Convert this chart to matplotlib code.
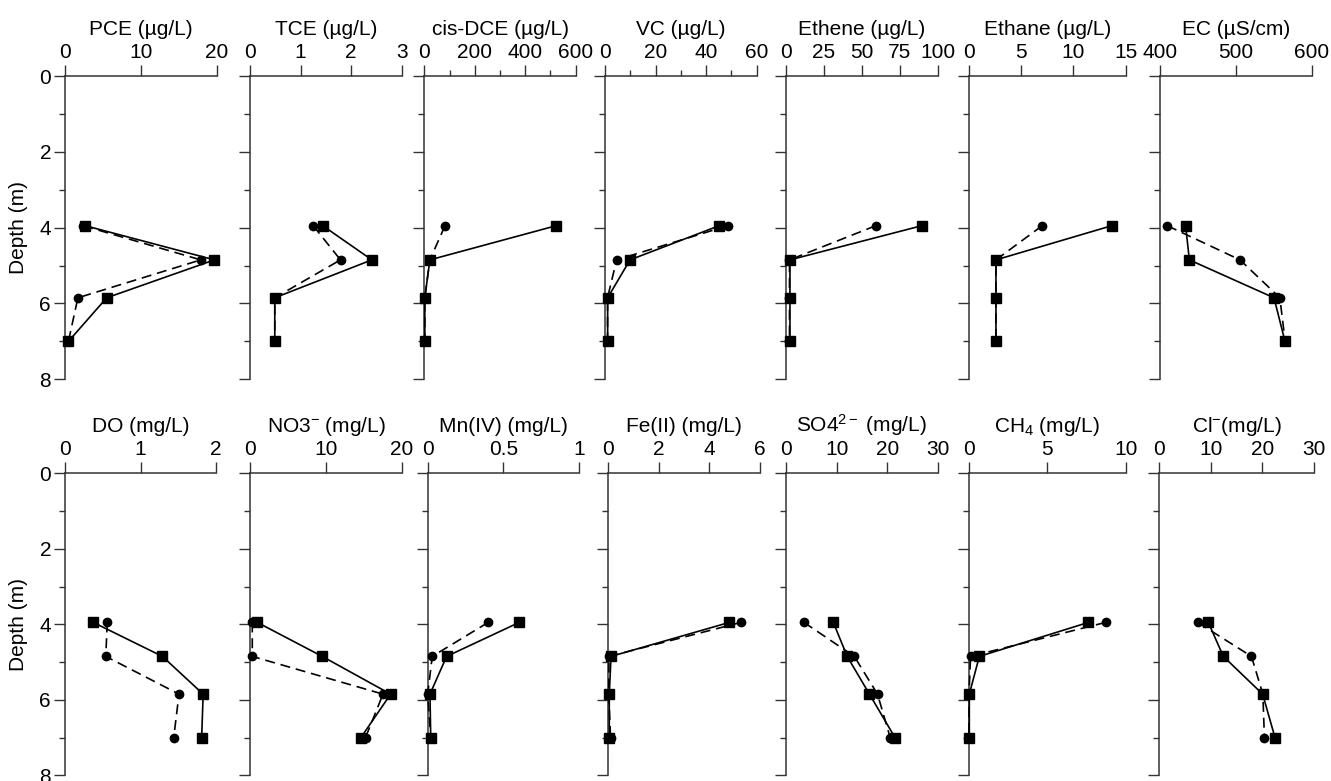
import matplotlib
matplotlib.use("Agg")
import matplotlib.pyplot as plt
from matplotlib.transforms import offset_copy
from matplotlib.ticker import FixedLocator, MultipleLocator

plt.rcParams['font.family'] = ['Liberation Sans', 'DejaVu Sans']
plt.rcParams['mathtext.fontset'] = 'custom'
plt.rcParams['mathtext.rm'] = 'Liberation Sans'
plt.rcParams['mathtext.it'] = 'Liberation Sans'
plt.rcParams['mathtext.default'] = 'regular'

# ---------------- data ----------------
depth = [3.95, 4.85, 5.85, 7.0]

pce_sq = [2.7, 19.7, 5.5, 0.45]
pce_ci = [2.4, 17.9, 1.7, 0.45]
tce_sq = [1.44, 2.41, 0.49, 0.49]
tce_ci = [1.25, 1.79, 0.49, 0.49]
dce_sq = [522, 22, 2, 2]
dce_ci = [82, 22, 2, 2]
vc_sq = [45.1, 9.9, 1.05, 1.05]
vc_ci = [48.5, 4.6, 1.0, 1.0]
ethene_sq = [89.4, 2.6, 2.6, 2.6]
ethene_ci = [59.1, 2.3, 2.3, 2.3]
ethane_sq = [13.65, 2.58, 2.58, 2.58]
ethane_ci = [7.0, 2.58, 2.58, 2.58]
ec_sq = [433.8, 438.7, 550.3, 564.8]
ec_ci = [409.7, 505.5, 558.0, 565.0]

do_sq = [0.375, 1.29, 1.83, 1.81]
do_ci = [0.56, 0.54, 1.51, 1.44]
no3_sq = [0.96, 9.5, 18.5, 14.6]
no3_ci = [0.3, 0.3, 17.5, 15.2]
mn_sq = [0.605, 0.125, 0.015, 0.02]
mn_ci = [0.40, 0.03, 0.0, 0.02]
fe_sq = [4.79, 0.12, 0.05, 0.05]
fe_ci = [5.25, 0.04, 0.03, 0.10]
so4_sq = [9.36, 12.1, 16.5, 21.55]
so4_ci = [3.56, 13.5, 18.1, 20.6]
ch4_sq = [7.62, 0.66, 0.02, 0.02]
ch4_ci = [8.72, 0.1, 0.0, 0.0]
cl_sq = [9.55, 12.45, 20.06, 22.45]
cl_ci = [7.48, 17.9, 20.1, 20.4]

titles_top = ['PCE (µg/L)', 'TCE (µg/L)', 'cis-DCE (µg/L)', 'VC (µg/L)',
              'Ethene (µg/L)', 'Ethane (µg/L)', 'EC (µS/cm)']
titles_bot = ['DO (mg/L)', 'NO3$^{-}$ (mg/L)', 'Mn(IV) (mg/L)', 'Fe(II) (mg/L)',
              'SO4$^{2-}$ (mg/L)', 'CH$_4$ (mg/L)', 'Cl$^{-}$(mg/L)']

xticks_top = [[0, 10, 20], [0, 1, 2, 3], [0, 200, 400, 600], [0, 20, 40, 60],
              [0, 25, 50, 75, 100], [0, 5, 10, 15], [400, 500, 600]]
xlabels_top = [['0', '10', '20'], ['0', '1', '2', '3'], ['0', '200', '400', '600'],
               ['0', '20', '40', '60'], ['0', '25', '50', '75', '100'],
               ['0', '5', '10', '15'], ['400', '500', '600']]
xminor_top = [None, None, 100, 10, None, None, None]

xticks_bot = [[0, 1, 2], [0, 10, 20], [0, 0.5, 1], [0, 2, 4, 6],
              [0, 10, 20, 30], [0, 5, 10], [0, 10, 20, 30]]
xlabels_bot = [['0', '1', '2'], ['0', '10', '20'], ['0', '0.5', '1'],
               ['0', '2', '4', '6'], ['0', '10', '20', '30'], ['0', '5', '10'],
               ['0', '10', '20', '30']]
xminor_bot = [None, None, None, None, None, None, None]

series_top = [(pce_sq, pce_ci), (tce_sq, tce_ci), (dce_sq, dce_ci), (vc_sq, vc_ci),
              (ethene_sq, ethene_ci), (ethane_sq, ethane_ci), (ec_sq, ec_ci)]
series_bot = [(do_sq, do_ci), (no3_sq, no3_ci), (mn_sq, mn_ci), (fe_sq, fe_ci),
              (so4_sq, so4_ci), (ch4_sq, ch4_ci), (cl_sq, cl_ci)]

depth_ticks = [0, 2, 4, 6, 8]

# ---------------- layout (pixels) ----------------
W, H = 1331, 781
fig = plt.figure(figsize=(W / 100, H / 100), dpi=100)

top_lr = [(65, 216.7), (250, 401.7), (424.3, 575.7), (605, 756.7),
          (786, 937.7), (969, 1125.7), (1160, 1311.7)]
bot_lr = [(65, 216), (250, 402), (427.7, 579), (608, 760),
          (786, 937.7), (969, 1125.7), (1159, 1314)]
top_tb = (76, 379.3)
bot_tb = (473.3, 775.3)

FS = 15
SPC = '#333333'


def make_panel(lr, tb, title, ticks, labels, minor, sq, ci, first):
    l, r = lr
    t, b = tb
    ax = fig.add_axes([l / W, 1 - b / H, (r - l) / W, (b - t) / H])
    ax.set_xlim(ticks[0], ticks[-1])
    ax.set_ylim(8, 0)
    ax.plot(ci, depth, color='black', lw=1.2, ls=(0, (6, 3.5)), marker='o',
            ms=6.0, zorder=3, clip_on=False)
    ax.plot(sq, depth, color='black', lw=1.2, ls='-', marker='s',
            ms=6.5, zorder=4, clip_on=False)
    for s in ['right', 'bottom']:
        ax.spines[s].set_visible(False)
    for s in ['left', 'top']:
        ax.spines[s].set_color(SPC)
        ax.spines[s].set_linewidth(1.1)
    ax.xaxis.tick_top()
    ax.xaxis.set_major_locator(FixedLocator(ticks))
    ax.set_xticklabels(labels)
    if minor is not None:
        ax.xaxis.set_minor_locator(MultipleLocator(minor))
    ax.yaxis.set_major_locator(FixedLocator(depth_ticks))
    ax.yaxis.set_minor_locator(MultipleLocator(1))
    ax.tick_params(axis='both', which='major', direction='out', length=8,
                   width=1.0, color=SPC, labelsize=FS, pad=2)
    ax.tick_params(axis='both', which='minor', direction='out', length=4,
                   width=1.0, color=SPC)
    if first:
        ax.set_ylabel('Depth (m)', fontsize=FS, labelpad=8)
    else:
        ax.set_yticklabels([])
    tr = offset_copy(ax.transAxes, fig=fig, x=0, y=41, units='dots')
    ax.text(0.5, 1.0, title, transform=tr, ha='center', va='baseline',
            fontsize=FS)
    ax.patch.set_alpha(0)
    return ax


for i in range(7):
    make_panel(top_lr[i], top_tb, titles_top[i], xticks_top[i], xlabels_top[i],
               xminor_top[i], series_top[i][0], series_top[i][1], i == 0)
    make_panel(bot_lr[i], bot_tb, titles_bot[i], xticks_bot[i], xlabels_bot[i],
               xminor_bot[i], series_bot[i][0], series_bot[i][1], i == 0)

fig.savefig('out.png', dpi=100)
